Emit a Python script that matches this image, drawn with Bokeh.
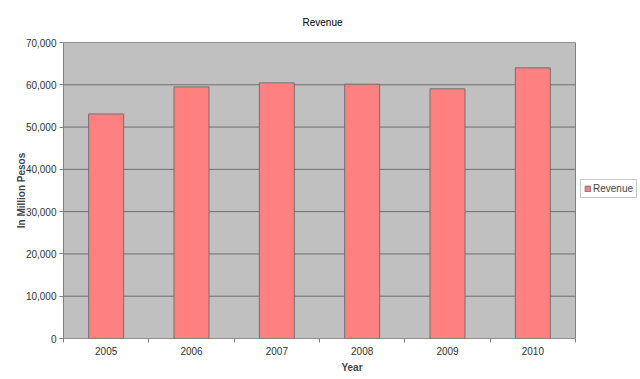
from bokeh.plotting import figure
from bokeh.models import FixedTicker, NumeralTickFormatter, Range1d, Legend, LegendItem, ColumnDataSource
from bokeh.embed import file_html
from bokeh.resources import INLINE

years = ["2005", "2006", "2007", "2008", "2009", "2010"]
revenue = [53100, 59500, 60450, 60150, 59050, 64000]
y_ticks = [0, 10000, 20000, 30000, 40000, 50000, 60000, 70000]

n = len(years)
y_max = y_ticks[-1]
xpos = [i + 0.5 for i in range(n)]
src = ColumnDataSource(dict(x=xpos, top=revenue, year=years))

FONT = "Liberation Sans"

# plot area occupies 512 of the 577 px wide frame; the rest holds the legend
frame_w = 640 - 63
area_w = 512
x_end = n * frame_w / area_w

p = figure(width=640, height=379, output_backend="svg", toolbar_location=None,
           x_range=Range1d(0, x_end), y_range=Range1d(0, y_max),
           min_border_left=63, min_border_right=0, min_border_top=42, min_border_bottom=41,
           title="Revenue")
p.title.align = "left"
p.title.text_font = FONT
p.title.text_font_size = "10px"
p.title.text_font_style = "normal"
p.title.text_color = "#000000"
p.title.vertical_align = "top"
p.title.offset = 239
p.title.standoff = 26

p.background_fill_color = "#FFFFFF"
p.border_fill_color = "#FFFFFF"
p.outline_line_color = None

# plot area background
p.quad(left=[0], right=[n], bottom=[0], top=[y_max], fill_color="#C0C0C0",
       line_color="#808080", line_width=1, level="image")

# horizontal gridlines limited to the plot area
p.segment(x0=[0] * len(y_ticks), x1=[n] * len(y_ticks), y0=y_ticks, y1=y_ticks,
          line_color="#6E6E6E", line_width=1, level="underlay")

r = p.vbar(x="x", top="top", width=0.41, source=src, fill_color="#FF8080",
           line_color="#707070", line_width=1)

p.xgrid.visible = False
p.ygrid.visible = False

# y axis
p.yaxis.ticker = FixedTicker(ticks=y_ticks)
p.yaxis.formatter = NumeralTickFormatter(format="0,0")
p.yaxis.axis_label = "In Million Pesos"
p.yaxis.axis_label_text_font = FONT
p.yaxis.axis_label_text_font_size = "10px"
p.yaxis.axis_label_text_font_style = "bold"
p.yaxis.axis_label_standoff = -4
p.yaxis.major_label_text_font = FONT
p.yaxis.major_label_text_font_size = "10px"
p.yaxis.major_label_text_color = "#333333"
p.yaxis.axis_line_color = "#808080"
p.yaxis.major_tick_line_color = "#808080"
p.yaxis.major_tick_out = 4
p.yaxis.major_tick_in = 0
p.yaxis.minor_tick_line_color = None
p.yaxis.major_label_standoff = 3

# x axis
p.xaxis.ticker = FixedTicker(ticks=xpos, minor_ticks=list(range(n + 1)))
p.xaxis.major_label_overrides = {x: y for x, y in zip(xpos, years)}
p.xaxis.axis_label = "Year"
p.xaxis.axis_label_text_font = FONT
p.xaxis.axis_label_text_font_size = "10px"
p.xaxis.axis_label_text_font_style = "bold"
p.xaxis.axis_label_standoff = 4
p.xaxis.major_label_text_font = FONT
p.xaxis.major_label_text_font_size = "10px"
p.xaxis.major_label_text_color = "#333333"
p.xaxis.axis_line_color = None
p.xaxis.major_tick_line_color = None
p.xaxis.major_tick_out = 0
p.xaxis.major_tick_in = 0
p.xaxis.minor_tick_line_color = "#808080"
p.xaxis.minor_tick_out = 4
p.xaxis.minor_tick_in = 0
p.xaxis.major_label_standoff = 4

legend = Legend(items=[LegendItem(label="Revenue", renderers=[r])],
                location=(517, 140))
legend.label_text_font = FONT
legend.label_text_font_size = "10px"
legend.label_standoff = 2
legend.glyph_width = 7
legend.glyph_height = 7
legend.label_height = 10
legend.padding = 3
legend.margin = 0
legend.spacing = 0
legend.border_line_color = "#909090"
legend.background_fill_color = "#FFFFFF"
legend.background_fill_alpha = 1
p.add_layout(legend, "center")

open("out.html", "w").write(file_html(p, INLINE))
